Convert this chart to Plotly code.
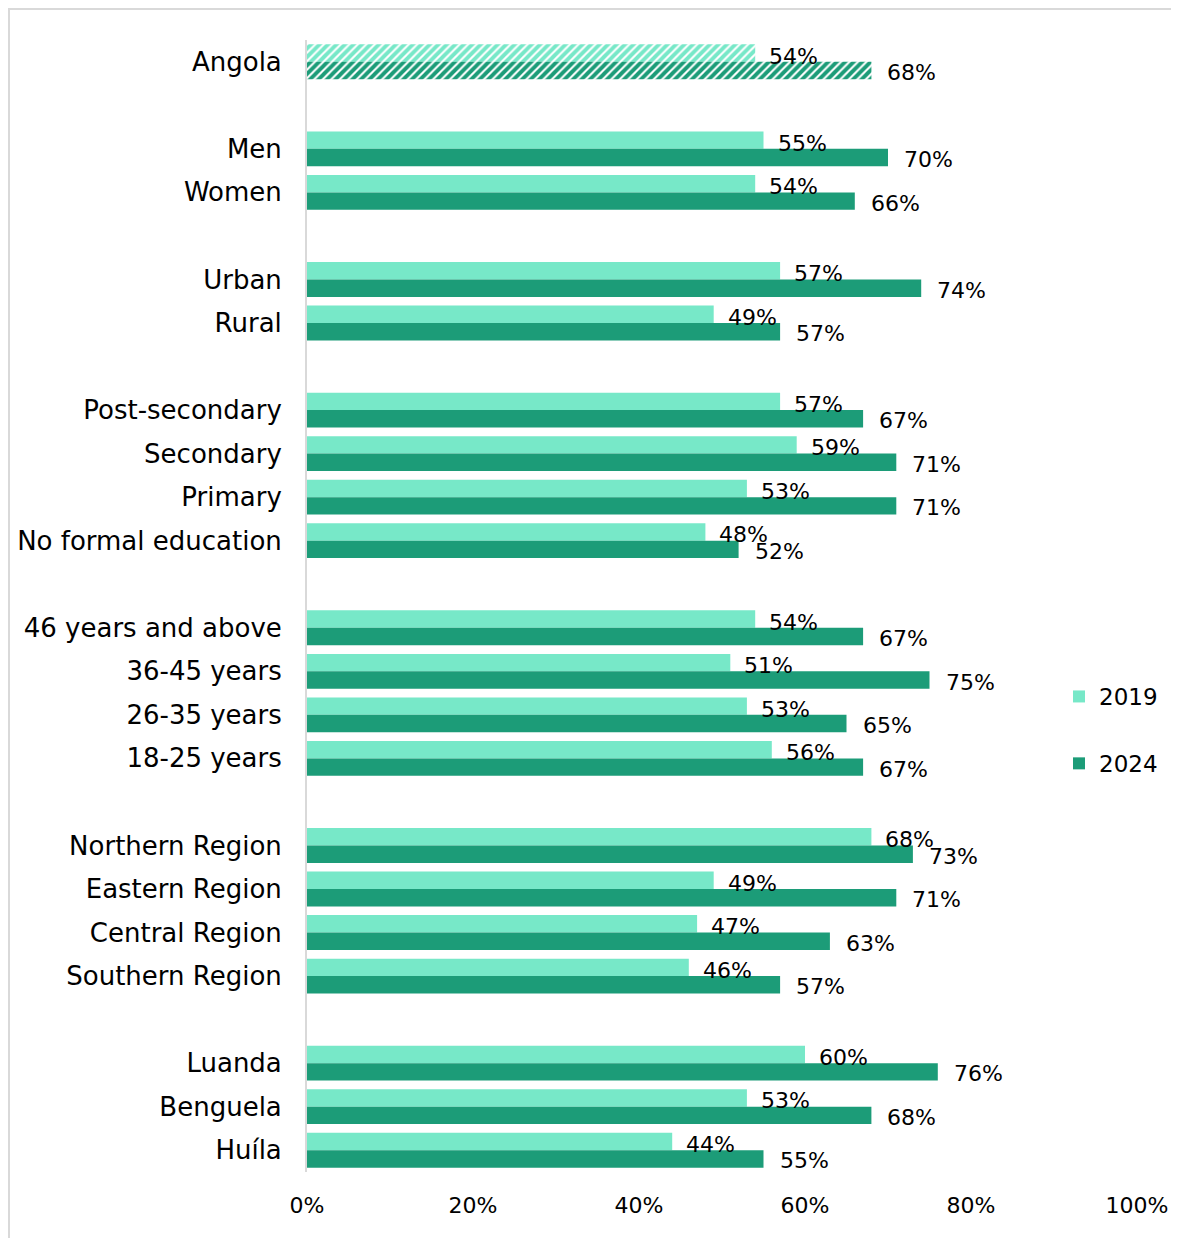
import plotly.graph_objects as go

categories = ["Angola", "Men", "Women", "Urban", "Rural",
              "Post-secondary", "Secondary", "Primary", "No formal education",
              "46 years and above", "36-45 years", "26-35 years", "18-25 years",
              "Northern Region", "Eastern Region", "Central Region", "Southern Region",
              "Luanda", "Benguela", "Huíla"]
group_sizes = [1, 2, 2, 4, 4, 4, 3]
v2019 = [54, 55, 54, 57, 49, 57, 59, 53, 48, 54, 51, 53, 56, 68, 49, 47, 46, 60, 53, 44]
v2024 = [68, 70, 66, 74, 57, 67, 71, 71, 52, 67, 75, 65, 67, 73, 71, 63, 57, 76, 68, 55]
xticks = [0, 20, 40, 60, 80, 100]
xticklabels = ["0%", "20%", "40%", "60%", "80%", "100%"]

# positions with a blank slot between groups
pos = []
p = 0
for g in group_sizes:
    for _ in range(g):
        pos.append(p)
        p += 1
    p += 1

C19 = "#77E8C8"
C24 = "#1C9C78"
FONT = "DejaVu Sans"

fig = go.Figure()
# national total (hatched), no legend entry
fig.add_trace(go.Bar(
    y=pos[:1], x=v2019[:1], orientation="h", name="2019", showlegend=False, offsetgroup="a",
    marker=dict(color=C19, line=dict(width=0),
                pattern=dict(shape="/", fgcolor=C19, bgcolor="white", size=6, solidity=0.65,
                             fgopacity=1)),
))
fig.add_trace(go.Bar(
    y=pos[:1], x=v2024[:1], orientation="h", name="2024", showlegend=False, offsetgroup="b",
    marker=dict(color=C24, line=dict(width=0),
                pattern=dict(shape="/", fgcolor=C24, bgcolor="white", size=6, solidity=0.65,
                             fgopacity=1)),
))
fig.add_trace(go.Bar(
    y=pos[1:], x=v2019[1:], orientation="h", name="2019", offsetgroup="a",
    marker=dict(color=C19, line=dict(width=0)), legendgroup="a",
))
fig.add_trace(go.Bar(
    y=pos[1:], x=v2024[1:], orientation="h", name="2024", offsetgroup="b",
    marker=dict(color=C24, line=dict(width=0)), legendgroup="b",
))

annotations = []
for y, a, b in zip(pos, v2019, v2024):
    annotations.append(dict(x=a, y=y - 0.2, xref="x", yref="y", text=f"{a}%", showarrow=False,
                            xanchor="left", xshift=12, yshift=-3,
                            font=dict(family=FONT, size=22, color="black")))
    annotations.append(dict(x=b, y=y + 0.2, xref="x", yref="y", text=f"{b}%", showarrow=False,
                            xanchor="left", xshift=14, yshift=-2,
                            font=dict(family=FONT, size=22, color="black")))

# page body has an 8px margin on every side
OFF = 8
L, R, T, B = 307 - OFF, 1137 - OFF, 40 - OFF, 1172 - OFF
W, H = 1179 - 2 * OFF, 1246 - 2 * OFF
fig.update_layout(
    width=W, height=H,
    margin=dict(l=L, r=W - R, t=T, b=H - B, autoexpand=False),
    paper_bgcolor="white", plot_bgcolor="white",
    barmode="group", bargap=0.2, bargroupgap=0,
    font=dict(family=FONT, size=22, color="black"),
    showlegend=True,
    legend=dict(x=(1059 - OFF - L) / (R - L), y=(B - (675 - OFF)) / (B - T),
                xanchor="left", yanchor="top",
                tracegroupgap=34, font=dict(family=FONT, size=23, color="black"),
                bgcolor="rgba(0,0,0,0)", itemwidth=30),
    xaxis=dict(range=[0, 100], tickvals=xticks, ticktext=xticklabels, showgrid=False,
               zeroline=False, showline=False, ticks="", ticklabelstandoff=18,
               automargin=False, tickfont=dict(family=FONT, size=22, color="black")),
    yaxis=dict(range=[pos[-1] + 0.5, -0.5],
               tickvals=pos, ticktext=categories, showgrid=False, zeroline=False,
               showline=True, linecolor="#d9d9d9", linewidth=2, ticks="", automargin=False,
               ticklabelstandoff=18, tickfont=dict(family=FONT, size=26, color="black")),
    annotations=annotations,
    shapes=[dict(type="rect", xref="paper", yref="paper",
                 x0=(1 - L) / (R - L), x1=(W + 20 - L) / (R - L),
                 y0=(B - (H + 20)) / (B - T), y1=(B - 1) / (B - T),
                 line=dict(color="#d9d9d9", width=2), fillcolor="rgba(0,0,0,0)", layer="below")],
)
fig.write_html("out.html")
